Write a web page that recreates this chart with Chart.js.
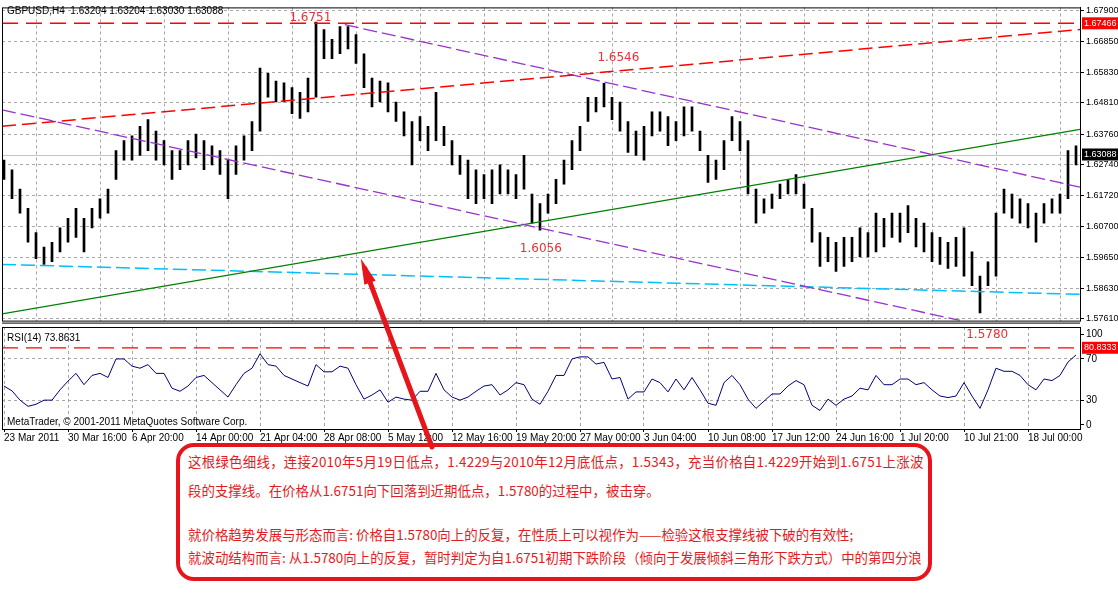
<!DOCTYPE html>
<html><head><meta charset="utf-8">
<script src="https://cdn.jsdelivr.net/npm/chart.js@4/dist/chart.umd.min.js"></script>
<style>
html,body{margin:0;padding:0;background:#fff;width:1118px;height:609px;overflow:hidden;position:relative;font-family:"Liberation Sans",sans-serif}
#c1{position:absolute;left:0;top:0}
#c2{position:absolute;left:0;top:319px}
#ov{position:absolute;left:0;top:0;pointer-events:none;z-index:3}
#box{position:absolute;left:176px;top:443px;width:748px;height:130px;border:4px solid #e8141c;border-radius:18px;background:#fff;z-index:2;color:#e31b23;font-family:"Noto Sans CJK SC",sans-serif;font-size:13.45px;white-space:nowrap}
#box div{position:absolute;left:8px}
#box div.w{letter-spacing:0.25px}
</style></head><body>
<canvas id="c1" width="1118" height="328" style="width:1118px;height:328px"></canvas>
<canvas id="c2" width="1118" height="131" style="width:1118px;height:131px"></canvas>
<div id="box">
<div class="w" style="top:4px">这根绿色细线，连接2010年5月19日低点，1.4229与2010年12月底低点，1.5343，充当价格自1.4229开始到1.6751上涨波</div>
<div style="top:33px">段的支撑线。在价格从1.6751向下回落到近期低点，1.5780的过程中，被击穿。</div>
<div style="top:77px">就价格趋势发展与形态而言: 价格自1.5780向上的反复，在性质上可以视作为——检验这根支撑线被下破的有效性;</div>
<div style="top:100px">就波动结构而言: 从1.5780向上的反复，暂时判定为自1.6751初期下跌阶段（倾向于发展倾斜三角形下跌方式）中的第四分浪</div>
</div>
<canvas id="ov" width="1118" height="609" style="width:1118px;height:609px"></canvas>
<script>
// ---- data (4-hour bars, sampled) ----
const highs = [1.6290,1.6258,1.6193,1.6129,1.6048,1.6000,1.6016,1.6064,1.6096,1.6129,1.6096,1.6129,1.6161,1.6193,1.6322,1.6355,1.6371,1.6403,1.6425,1.6387,1.6355,1.6322,1.6322,1.6355,1.6377,1.6355,1.6338,1.6322,1.6290,1.6338,1.6371,1.6419,1.6597,1.6580,1.6554,1.6548,1.6532,1.6516,1.6564,1.6751,1.6726,1.6693,1.6736,1.6736,1.6709,1.6645,1.6564,1.6554,1.6548,1.6484,1.6451,1.6419,1.6435,1.6403,1.6516,1.6403,1.6355,1.6306,1.6290,1.6258,1.6242,1.6258,1.6274,1.6258,1.6242,1.6306,1.6177,1.6145,1.6177,1.6226,1.6290,1.6355,1.6403,1.6500,1.6500,1.6546,1.6500,1.6484,1.6419,1.6387,1.6403,1.6451,1.6451,1.6435,1.6419,1.6468,1.6468,1.6387,1.6306,1.6290,1.6355,1.6435,1.6419,1.6355,1.6193,1.6161,1.6177,1.6210,1.6226,1.6242,1.6210,1.6129,1.6048,1.6032,1.6016,1.6032,1.6032,1.6064,1.6048,1.6113,1.6096,1.6113,1.6113,1.6138,1.6096,1.6080,1.6048,1.6032,1.6016,1.6032,1.6064,1.5984,1.5903,1.5951,1.6113,1.6193,1.6177,1.6161,1.6145,1.6113,1.6145,1.6161,1.6177,1.6322,1.6338];
const lows  = [1.6226,1.6161,1.6113,1.6016,1.5961,1.5942,1.5951,1.5984,1.6016,1.6032,1.5984,1.6064,1.6096,1.6113,1.6226,1.6290,1.6290,1.6306,1.6322,1.6290,1.6274,1.6226,1.6258,1.6274,1.6297,1.6258,1.6274,1.6242,1.6161,1.6242,1.6290,1.6322,1.6387,1.6500,1.6484,1.6484,1.6445,1.6429,1.6451,1.6500,1.6629,1.6629,1.6645,1.6661,1.6613,1.6532,1.6468,1.6484,1.6451,1.6419,1.6371,1.6274,1.6355,1.6322,1.6355,1.6338,1.6274,1.6242,1.6161,1.6145,1.6161,1.6145,1.6177,1.6177,1.6161,1.6193,1.6080,1.6056,1.6113,1.6145,1.6210,1.6258,1.6322,1.6419,1.6451,1.6468,1.6425,1.6387,1.6316,1.6306,1.6290,1.6371,1.6387,1.6338,1.6355,1.6371,1.6387,1.6322,1.6216,1.6226,1.6258,1.6355,1.6322,1.6177,1.6080,1.6113,1.6129,1.6161,1.6177,1.6177,1.6129,1.6016,1.5935,1.5951,1.5919,1.5935,1.5951,1.5967,1.5967,1.5984,1.6000,1.6032,1.6016,1.6048,1.6000,1.5984,1.5951,1.5942,1.5929,1.5935,1.5903,1.5871,1.5780,1.5871,1.5903,1.6113,1.6096,1.6080,1.6064,1.6016,1.6080,1.6113,1.6113,1.6161,1.6274];
const rsi = [43.7,39,30,24,26,30,30,40,48.5,56,45,54,56,52,70,70,63,61,64.5,56,56,41.6,38.6,43.7,52,54,47,40,33,45,56,61,75,64.5,63,54,50.5,47,43.7,64.5,57.5,57.5,63,61,45,31,35,40,28,33,31,30,38.6,38.6,56,40,33,30,33,38.6,43.7,45,35,40,47,45,31,26,38.6,54,54,70,72,72,65,66.7,50.5,52,31,38,38,50.5,47,38,50.5,40,52,40,27,25,47,54,45,31,22,29,36,36,43.7,49,45,25,20,31,25,31,34,41.6,40,54,45,45,50.5,50.5,45,47,40,34,32.5,34,47,34,22,40,61,58,58,54,45,40,50.5,49,54,67,73.86];
const xTickIdx = [0,8,16,24,32,40,48,56,64,72,80,88,96,104,112,120,128];
const xTickLabels = ['23 Mar 2011','30 Mar 16:00','6 Apr 20:00','14 Apr 00:00','21 Apr 04:00','28 Apr 08:00','5 May 12:00','12 May 16:00','19 May 20:00','27 May 00:00','3 Jun 04:00','10 Jun 08:00','17 Jun 12:00','24 Jun 16:00','1 Jul 20:00','10 Jul 21:00','18 Jul 00:00'];
const priceTicks = [1.67900,1.66850,1.65830,1.64810,1.63760,1.62740,1.61720,1.60700,1.59650,1.58630,1.57610];
const rsiTickPos = [94,70,30,6];
const rsiTickLabels = ['100','70','30','0'];
// trendlines: [index, price] endpoints
const resistLevel = 1.67466, lastClose = 1.63088, rsiLevel = 80.8333, rsiLast = 73.8631;
const redRising = [[-0.25,1.6403],[134.5,1.6726]];
const purpleUpper = [[42.6,1.6742],[134.5,1.6200]];
const purpleLower = [[-0.25,1.6458],[119.5,1.5755]];
const greenSupport = [[-0.25,1.5777],[134.5,1.6393]];
const cyanLine = [[-0.25,1.5942],[134.5,1.5842]];
const priceNotes = [['1.6751',38.3,1.6766],['1.6546',76.8,1.6632],['1.6056',67.1,1.5993]];
const arrowStart = [44.6,1.5962];

const idx = highs.map((_,i)=>i);
const XMIN=-0.25, XMAX=134.5;
const F='"Liberation Sans", sans-serif';
const gridC='#a8a8a8';
function seg(pts){return pts.map(p=>({x:p[0],y:p[1]}));}
function lineDs(pts,color,dash,w){return {type:'line',data:seg(pts),borderColor:color,borderDash:dash,borderWidth:w||1,pointRadius:0,fill:false,order:0};}

const xScale = (showLabels)=>({type:'linear',min:XMIN,max:XMAX,offset:false,
  afterBuildTicks:s=>{s.ticks=xTickIdx.map(v=>({value:v}));},
  grid:{color:gridC,drawTicks:showLabels,tickLength:3,tickColor:'#000'},
  border:{display:false,dash:[3,3]},
  ticks:{display:showLabels,align:'start',maxRotation:0,autoSkip:false,padding:0,color:'#000',font:{family:F,size:10},
    callback:(v)=>{const k=xTickIdx.indexOf(v);return k>=0?xTickLabels[k]:'';}},
  afterFit:s=>{s.height=showLabels?21:0;}
});

const deco1={id:'deco1',
  beforeDatasetsDraw(c){const ctx=c.ctx,a=c.chartArea;ctx.save();ctx.setLineDash([]);ctx.strokeStyle='#c4c4c4';ctx.lineWidth=1;
    const y=Math.round(c.scales.y.getPixelForValue(lastClose))+0.5;ctx.beginPath();ctx.moveTo(a.left,y);ctx.lineTo(a.right,y);ctx.stroke();ctx.restore();},
  afterDraw(c){const ctx=c.ctx,a=c.chartArea,ys=c.scales.y,xs=c.scales.x;ctx.save();
    ctx.strokeStyle='#000';ctx.lineWidth=1;ctx.setLineDash([]);
    ctx.strokeRect(a.left+0.5,a.top+0.5,a.right-a.left,a.bottom-a.top);
    ctx.beginPath();ctx.moveTo(a.left,a.bottom+2.5);ctx.lineTo(a.right,a.bottom+2.5);ctx.stroke();
    ctx.font='10px '+F;ctx.fillStyle='#000';ctx.textBaseline='middle';ctx.textAlign='left';
    ctx.fillText('GBPUSD,H4  1.63204 1.63204 1.63030 1.63088',7,11);
    ctx.font='12px "DejaVu Sans", sans-serif';ctx.fillStyle='#e8303a';ctx.textAlign='center';
    priceNotes.forEach(n=>ctx.fillText(n[0],xs.getPixelForValue(n[1]),ys.getPixelForValue(n[2])));
    ctx.font='9px '+F;ctx.textAlign='left';
    [[resistLevel,'#ff0000'],[lastClose,'#000']].forEach(([v,col])=>{const y=ys.getPixelForValue(v);
      ctx.fillStyle=col;ctx.fillRect(a.right+2,y-6,40,12);ctx.fillStyle='#fff';ctx.fillText(v.toFixed(5),a.right+4,y);});
    ctx.restore();}
};

const c1=new Chart(document.getElementById('c1'),{
  type:'bar',
  data:{datasets:[
    {type:'bar',data:idx.map(i=>({x:i,y:[lows[i],highs[i]]})),backgroundColor:'#000',barThickness:2,order:1},
    {type:'line',data:[{x:XMIN,y:resistLevel},{x:XMAX,y:resistLevel}],borderColor:'#ff0000',borderDash:[16,8],borderWidth:1.5,pointRadius:0,order:0},
    lineDs(redRising,'#ff0000',[14,6],1.5),
    lineDs(purpleUpper,'#9932cc',[14,5],1.3),
    lineDs(purpleLower,'#9932cc',[14,5],1.3),
    lineDs(greenSupport,'#008000',[],1.3),
    lineDs(cyanLine,'#00bfff',[14,5],1.5)
  ]},
  options:{responsive:false,animation:false,events:[],
    layout:{padding:{left:2,top:2,right:0,bottom:0}},
    plugins:{legend:{display:false},tooltip:{enabled:false}},
    scales:{
      x:xScale(false),
      y:{position:'right',min:1.57545,max:1.67997,
        afterBuildTicks:s=>{s.ticks=priceTicks.map(v=>({value:v}));},
        grid:{color:gridC,tickColor:'#000',tickLength:4},
        border:{display:true,color:'#000',dash:[3,3]},
        ticks:{color:'#000',padding:2,font:{family:F,size:9},callback:v=>v.toFixed(5)},
        afterFit:s=>{s.width=38;}}
    }},
  plugins:[deco1]
});

const deco2={id:'deco2',
  afterDraw(c){const ctx=c.ctx,a=c.chartArea,ys=c.scales.y,xs=c.scales.x;ctx.save();
    ctx.strokeStyle='#000';ctx.lineWidth=1;ctx.setLineDash([]);
    ctx.strokeRect(a.left+0.5,a.top+0.5,a.right-a.left,a.bottom-a.top);
    ctx.font='10px '+F;ctx.fillStyle='#000';ctx.textBaseline='middle';ctx.textAlign='left';
    ctx.fillText('RSI(14) '+rsiLast.toFixed(4),7,a.top+11);
    ctx.fillText('MetaTrader, © 2001-2011 MetaQuotes Software Corp.',7,a.bottom-7);
    ctx.font='12px "DejaVu Sans", sans-serif';ctx.fillStyle='#e8303a';ctx.textAlign='center';
    ctx.fillText('1.5780',xs.getPixelForValue(122.9),a.top+8);
    ctx.font='9px '+F;ctx.textAlign='left';const y=ys.getPixelForValue(rsiLevel);
    ctx.fillStyle='#ff0000';ctx.fillRect(a.right+2,y-6,40,12);ctx.fillStyle='#fff';ctx.fillText(rsiLevel.toFixed(4),a.right+4,y);
    ctx.restore();}
};
const c2=new Chart(document.getElementById('c2'),{
  type:'line',
  data:{datasets:[
    {data:idx.map(i=>({x:i,y:rsi[i]})),borderColor:'#000080',borderWidth:1,pointRadius:0,tension:0},
    {data:[{x:XMIN,y:rsiLevel},{x:XMAX,y:rsiLevel}],borderColor:'#ff0000',borderDash:[16,8],borderWidth:1.3,pointRadius:0}
  ]},
  options:{responsive:false,animation:false,events:[],
    layout:{padding:{left:2,top:1,right:0,bottom:0}},
    plugins:{legend:{display:false},tooltip:{enabled:false}},
    scales:{
      x:xScale(true),
      y:{position:'right',min:2,max:101,
        afterBuildTicks:s=>{s.ticks=rsiTickPos.map(v=>({value:v}));},
        grid:{color:(ctx)=>(ctx.tick&&(ctx.tick.value===70||ctx.tick.value===30))?gridC:'rgba(0,0,0,0)',tickColor:'#000',tickLength:4},
        border:{display:true,color:'#000',dash:[3,3]},
        ticks:{color:'#000',padding:2,font:{family:F,size:10},callback:v=>{const k=rsiTickPos.indexOf(v);return k>=0?rsiTickLabels[k]:'';}},
        afterFit:s=>{s.width=38;}}
    }},
  plugins:[deco2]
});
[c1,c2].forEach(c=>{['x','y'].forEach(k=>{c.options.scales[k].grid.borderDash=[3,3];});c.update();});

// arrow annotation
const ov=document.getElementById('ov').getContext('2d');
const sx=c1.scales.x.getPixelForValue(arrowStart[0]), sy=c1.scales.y.getPixelForValue(arrowStart[1]);
const ex=432, ey=447;
ov.strokeStyle='#e8141c';ov.fillStyle='#e8141c';ov.lineWidth=5;ov.lineCap='round';
ov.beginPath();ov.moveTo(ex,ey);ov.lineTo(sx+4,sy+10);ov.stroke();
const ang=Math.atan2(sy-ey,sx-ex);
ov.beginPath();ov.moveTo(sx,sy);
ov.lineTo(sx-Math.cos(ang)*26+Math.sin(ang)*6,sy-Math.sin(ang)*26-Math.cos(ang)*6);
ov.lineTo(sx-Math.cos(ang)*26-Math.sin(ang)*6,sy-Math.sin(ang)*26+Math.cos(ang)*6);
ov.closePath();ov.fill();
</script>
</body></html>
